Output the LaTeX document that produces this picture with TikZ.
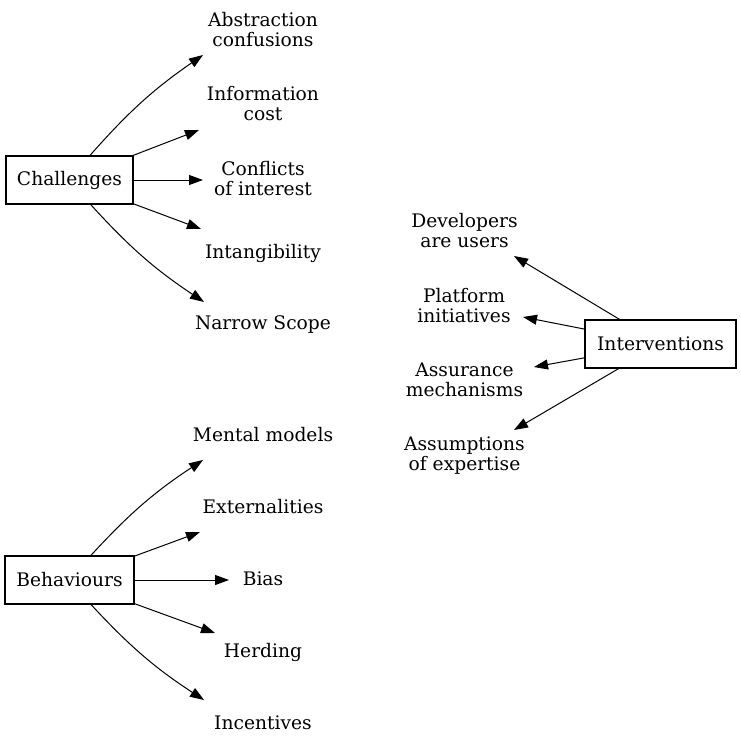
\documentclass[tikz,border=0pt]{standalone}
\usepackage{fontspec}
\setmainfont{DejaVu Serif}
\usetikzlibrary{arrows.meta}

\begin{document}
\begin{tikzpicture}[x=0.75pt,y=0.75pt,
  every node/.style={font=\fontsize{14}{15}\selectfont},
  box/.style={draw,rectangle,line width=0.8pt,minimum height=36pt,inner sep=0pt},
  txt/.style={align=center,inner sep=0pt},
  link/.style={->,>={Triangle[length=10.5pt,width=7.5pt]},line width=0.75pt}]
\useasboundingbox (0,0) rectangle (741,-753);
% challenges
\node[box,minimum width=95.25pt] (chal) at (69.5,-180) {Challenges};
\node[txt] (abs) at (263,-30) {Abstraction\\confusions};
\node[txt] (info) at (263,-104) {Information\\cost};
\node[txt] (conf) at (263,-179) {Conflicts\\of interest};
\node[txt] (intang) at (263,-253) {Intangibility};
\node[txt] (narrow) at (263,-325) {Narrow Scope};
\draw[link] (chal) to[bend left=7] ([shift={(-60,-25)}]abs.center);
\draw[link] (chal) -- ([shift={(-64,-26)}]info.center);
\draw[link] (chal) -- ([shift={(-60,-1)}]conf.center);
\draw[link] (chal) -- ([shift={(-62,24)}]intang.center);
\draw[link] (chal) to[bend right=7] ([shift={(-59,23)}]narrow.center);
% behaviours
\node[box,minimum width=96.75pt] (behav) at (69.5,-580) {Behaviours};
\node[txt] (mental) at (263,-435) {Mental models};
\node[txt] (extern) at (263,-507) {Externalities};
\node[txt] (bias) at (263,-579) {Bias};
\node[txt] (herd) at (263,-652) {Herding};
\node[txt] (incent) at (263,-723) {Incentives};
\draw[link] (behav) to[bend left=7] ([shift={(-60,-25)}]mental.center);
\draw[link] (behav) -- ([shift={(-63,-25)}]extern.center);
\draw[link] (behav) -- ([shift={(-34,-1)}]bias.center);
\draw[link] (behav) -- ([shift={(-48,19)}]herd.center);
\draw[link] (behav) to[bend right=7] ([shift={(-59,23)}]incent.center);
% interventions
\node[box,minimum width=113.25pt] (interv) at (660.5,-344) {Interventions};
\node[txt] (dev) at (464.5,-231) {Developers\\are users};
\node[txt] (plat) at (464,-306) {Platform\\initiatives};
\node[txt] (assur) at (464.5,-380) {Assurance\\mechanisms};
\node[txt] (assum) at (464.5,-456) {Assumptions\\of expertise};
\draw[link] (interv) -- ([shift={(49.5,-25)}]dev.center);
\draw[link] (interv) -- ([shift={(59,-11)}]plat.center);
\draw[link] (interv) -- ([shift={(69.5,13)}]assur.center);
\draw[link] (interv) -- ([shift={(49.5,26)}]assum.center);
\end{tikzpicture}
\end{document}
